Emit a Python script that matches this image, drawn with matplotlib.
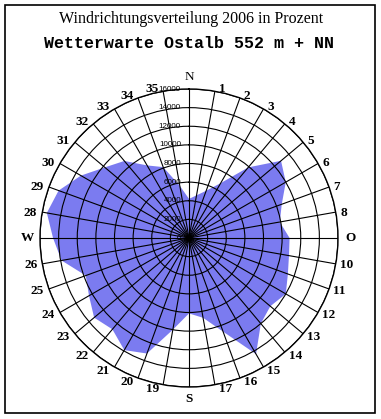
import numpy as np
import matplotlib
matplotlib.use("Agg")
import matplotlib.pyplot as plt
from matplotlib.patches import Rectangle

# ---- data ----
directions = list(range(36))  # 10-degree sectors, 0 = North, clockwise
values = [4200, 4650, 5400, 6800, 9900, 12900, 12000, 10600, 9900, 10800,
          10900, 11300, 12000, 11400, 12000, 14400, 10700, 8700, 8100, 10000,
          13200, 13900, 12800, 13300, 12400, 11800, 13900, 14600, 15500, 14900,
          13400, 11800, 10800, 9000, 8100, 5700]
direction_labels = ['N', '1', '2', '3', '4', '5', '6', '7', '8', 'O',
                    '10', '11', '12', '13', '14', '15', '16', '17', 'S',
                    '19', '20', '21', '22', '23', '24', '25', '26', 'W',
                    '28', '29', '30', '31', '32', '33', '34', '35']
radial_ticks = [0, 2000, 4000, 6000, 8000, 10000, 12000, 14000, 16000]
title1 = "Windrichtungsverteilung 2006 in Prozent"
title2 = "Wetterwarte Ostalb 552 m + NN"

W, H = 381, 419
PX = 0.72  # points per pixel at 100 dpi
fig = plt.figure(figsize=(W / 100, H / 100), dpi=100)
fig.patch.set_facecolor('white')

cx, cy, R = 189, 238, 149
ax = fig.add_axes([(cx - R) / W, (H - cy - R) / H, 2 * R / W, 2 * R / H], polar=True)
ax.set_theta_zero_location('N')
ax.set_theta_direction(-1)
rmax = radial_ticks[-1]
ax.set_ylim(0, rmax)

theta = np.deg2rad(np.array(directions) * 10.0)
th_c = np.append(theta, theta[0])
v_c = np.append(values, values[0])
ax.fill(th_c, v_c, color='#7b7bf0', lw=0, zorder=1)

ax.set_thetagrids(np.array(directions) * 10.0, labels=[''] * len(directions))
ax.set_rgrids(radial_ticks[1:], labels=[''] * (len(radial_ticks) - 1))
ax.set_axisbelow(False)
ax.grid(True, color='black', linewidth=0.8, linestyle='-')
ax.spines['polar'].set_color('black')
ax.spines['polar'].set_linewidth(1.0)
ax.tick_params(length=0, pad=0)

# radial value labels along the north spoke
for r in radial_ticks:
    ax.annotate(str(r), xy=(0, r), xytext=(-8 * PX, 0), textcoords='offset points',
                ha='right', va='center', fontsize=5.8, family='Liberation Sans',
                annotation_clip=False, zorder=5)

# direction labels
for d, lab in zip(directions, direction_labels):
    b = d * 10.0
    ang = np.deg2rad(b)
    if lab in ('N', 'O', 'S', 'W'):
        ax.annotate(lab, xy=(ang, rmax), xytext=(12.5 * np.sin(ang) * PX, 12.5 * np.cos(ang) * PX),
                    textcoords='offset points', ha='center', va='center', fontsize=9.5,
                    family='Liberation Serif',
                    fontweight='normal' if lab == 'N' else 'bold',
                    annotation_clip=False)
    else:
        dy = (2.5 * np.cos(ang) - 1.0) * PX
        if b < 180:
            ha, dx = 'left', 3.5 * PX
        else:
            ha, dx = 'right', -4.0 * PX
        ax.annotate(lab, xy=(ang, rmax * 150 / 149), xytext=(dx, dy),
                    textcoords='offset points', ha=ha, va='center', fontsize=9.5,
                    family='Liberation Serif', fontweight='bold',
                    annotation_clip=False)

fig.text(191 / W, 1 - 19 / H, title1, ha='center', va='center', fontsize=11.5,
         family='Liberation Serif')
fig.text(189 / W, 1 - 43 / H, title2, ha='center', va='center', fontsize=12,
         family='Liberation Mono', fontweight='bold')

fig.patches.append(Rectangle((5 / W, 6 / H), 370 / W, 408 / H, transform=fig.transFigure,
                             fill=False, ec='black', lw=1.2))

fig.savefig('out.png', dpi=100)
